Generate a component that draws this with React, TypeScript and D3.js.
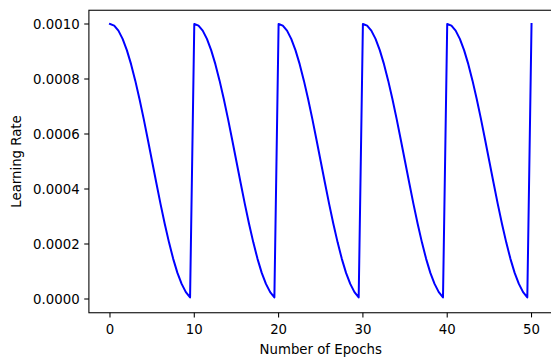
import { useRef, useEffect } from "react";
import * as d3 from "d3";

// one warm-restart cycle (epoch offset within cycle, lr)
const cycleSteps = [0, 0.5, 1, 1.5, 2, 2.5, 3, 3.5, 4, 4.5, 5, 5.5, 6, 6.5, 7, 7.5, 8, 8.5, 9, 9.5];
const cycleLR = [
  0.001, 0.000994, 0.000976, 0.000946, 0.000905, 0.000854, 0.000794, 0.000727, 0.000655, 0.000578,
  0.0005, 0.000422, 0.000345, 0.000273, 0.000206, 0.000146, 0.000095, 0.000055, 0.000025, 0.000006,
];
const cycleStarts = [0, 10, 20, 30, 40];
const lastEpoch = 50;
const lastLR = 0.001;

const xTicks = [0, 10, 20, 30, 40, 50];
const yTicks = [0, 0.0002, 0.0004, 0.0006, 0.0008, 0.001];

const App = () => {
  const svgRef = useRef<SVGSVGElement>(null);

  useEffect(() => {
    const width = 551;
    const height = 359;
    const font = "DejaVu Sans, sans-serif";

    const svg = d3.select(svgRef.current).attr("width", width).attr("height", height);
    svg.selectAll("*").remove();

    const data: [number, number][] = [];
    cycleStarts.forEach((s) => {
      cycleSteps.forEach((t, i) => data.push([s + t, cycleLR[i]]));
    });
    data.push([lastEpoch, lastLR]);

    const x = d3.scaleLinear().domain([-2.5, 52.5]).range([88.9, 552.6]);
    const y = d3.scaleLinear().domain([-0.00005, 0.00105]).range([312.75, 10.25]);

    const line = d3
      .line<[number, number]>()
      .x((d) => x(d[0]))
      .y((d) => y(d[1]));

    svg
      .append("path")
      .datum(data)
      .attr("d", line)
      .attr("fill", "none")
      .attr("stroke", "#0000ff")
      .attr("stroke-width", 2)
      .attr("stroke-linejoin", "round")
      .attr("stroke-linecap", "square");

    // spines
    const [x0, x1] = x.range();
    const [y0, y1] = y.range();
    svg
      .append("rect")
      .attr("x", x0)
      .attr("y", y1)
      .attr("width", x1 - x0)
      .attr("height", y0 - y1)
      .attr("fill", "none")
      .attr("stroke", "#000")
      .attr("stroke-width", 1.07);

    const xAxis = svg.append("g").attr("transform", `translate(0,${y0})`);
    xTicks.forEach((t) => {
      xAxis
        .append("line")
        .attr("x1", x(t))
        .attr("x2", x(t))
        .attr("y1", 0)
        .attr("y2", 4.67)
        .attr("stroke", "#000")
        .attr("stroke-width", 1.07);
      xAxis
        .append("text")
        .attr("x", x(t))
        .attr("y", 21.5)
        .attr("text-anchor", "middle")
        .attr("font-family", font)
        .attr("font-size", 13.3)
        .attr("fill", "#000")
        .text(String(t));
    });

    const yAxis = svg.append("g").attr("transform", `translate(${x0},0)`);
    yTicks.forEach((t) => {
      yAxis
        .append("line")
        .attr("x1", -4.67)
        .attr("x2", 0)
        .attr("y1", y(t))
        .attr("y2", y(t))
        .attr("stroke", "#000")
        .attr("stroke-width", 1.07);
      yAxis
        .append("text")
        .attr("x", -9.3)
        .attr("y", y(t))
        .attr("dy", "0.36em")
        .attr("text-anchor", "end")
        .attr("font-family", font)
        .attr("font-size", 13.3)
        .attr("fill", "#000")
        .text(d3.format(".4f")(t));
    });

    svg
      .append("text")
      .attr("x", (x0 + x1) / 2)
      .attr("y", 354)
      .attr("text-anchor", "middle")
      .attr("font-family", font)
      .attr("font-size", 13.3)
      .attr("fill", "#000")
      .text("Number of Epochs");

    svg
      .append("text")
      .attr("transform", `translate(21,${(y0 + y1) / 2}) rotate(-90)`)
      .attr("text-anchor", "middle")
      .attr("font-family", font)
      .attr("font-size", 13.3)
      .attr("fill", "#000")
      .text("Learning Rate");
  }, []);

  return <svg ref={svgRef} style={{ position: "absolute", left: 0, top: 0 }} />;
};

export default App;
